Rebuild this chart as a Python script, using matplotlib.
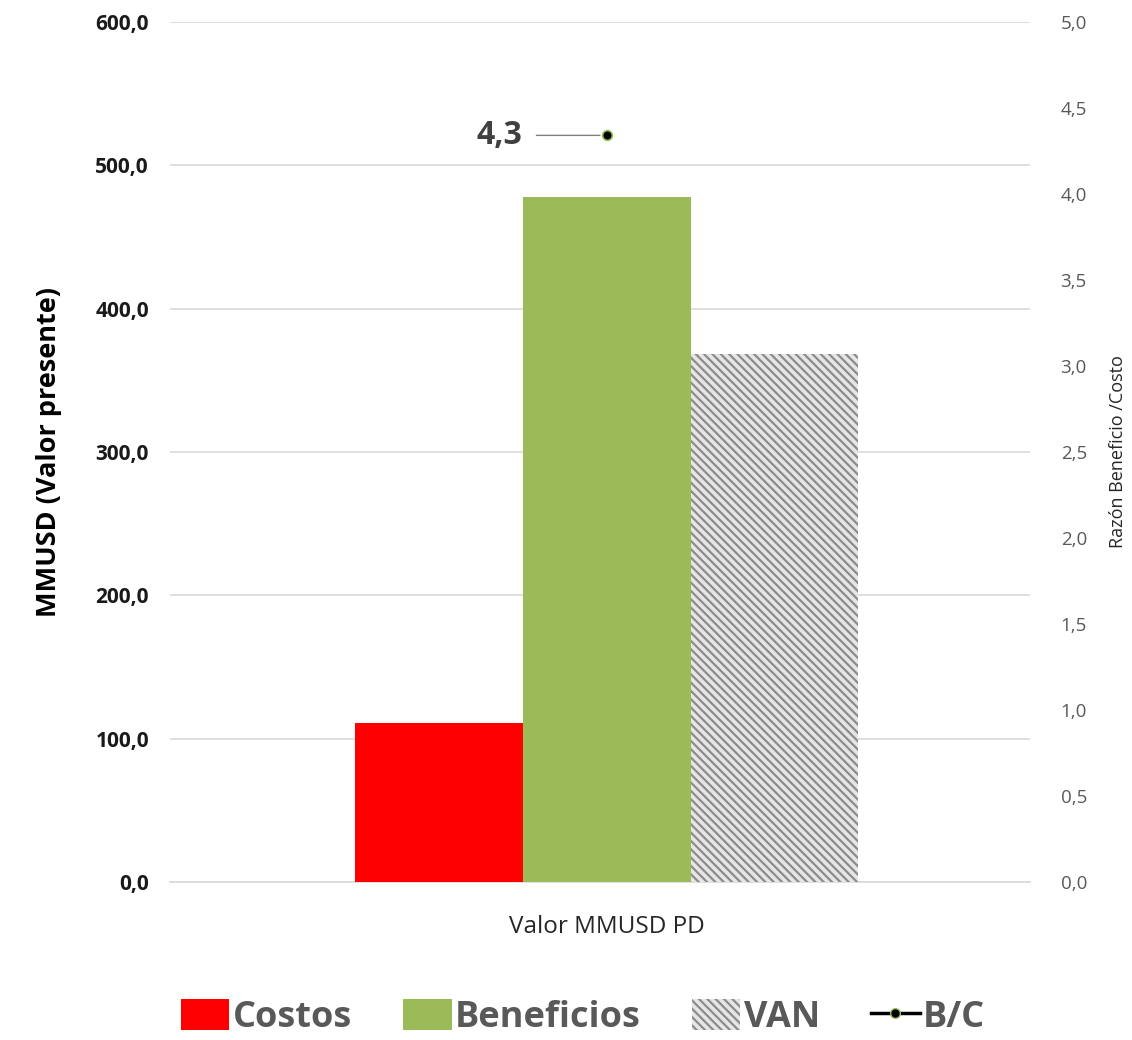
import matplotlib
matplotlib.use('Agg')
import matplotlib.pyplot as plt
from matplotlib.patches import Patch
from matplotlib.lines import Line2D
import numpy as np

plt.rcParams['font.family'] = ['Open Sans', 'DejaVu Sans']
plt.rcParams['hatch.linewidth'] = 1.6

categoria = 'Valor MMUSD PD'
series = ['Costos', 'Beneficios', 'VAN']
valores = [111.0, 478.0, 368.0]
colores = ['#ff0000', '#9bbb59', '#ffffff']
razon_bc = 4.34
ticks_izq = np.arange(0, 601, 100)
ticks_der = np.arange(0, 5.01, 0.5)

fig = plt.figure(figsize=(11.32, 10.4), dpi=100)
ax = fig.add_axes([0.150, 0.152, 0.760, 0.827])
ax2 = ax.twinx()

ancho = 0.195
centro = 0.0
pos = [centro - ancho, centro, centro + ancho]
for i in range(3):
    if series[i] == 'VAN':
        ax.bar(pos[i], valores[i], ancho, color='#e6e6e6', edgecolor='#8c8c8c',
               hatch='\\\\\\\\', linewidth=0, zorder=3)
    else:
        ax.bar(pos[i], valores[i], ancho, color=colores[i], linewidth=0, zorder=3)

ax.set_xlim(-0.508, 0.492)
ax.set_ylim(0, 600)
ax.set_yticks(ticks_izq)
ax.set_yticklabels([('%.1f' % t).replace('.', ',') for t in ticks_izq],
                   fontsize=15, fontweight='bold', color='#1a1a1a')
ax.yaxis.grid(True, color='#d9d9d9', linewidth=1.2, zorder=0)
ax.set_axisbelow(True)
ax.set_xticks([centro])
ax.set_xticklabels([categoria], fontsize=17.5, color='#262626')
ax.tick_params(axis='x', length=0, pad=24)
ax.tick_params(axis='y', length=0, pad=15)
ax.set_ylabel('MMUSD (Valor presente)', fontsize=19.5, fontweight='bold', labelpad=24)
for s in ax.spines.values():
    s.set_visible(False)
ax.spines['bottom'].set_visible(True)
ax.spines['bottom'].set_color('#d9d9d9')
ax.spines['bottom'].set_linewidth(1.2)

ax2.plot([centro], [razon_bc], marker='o', color='black', markersize=7,
         markeredgecolor='#9bbb59', markeredgewidth=1.2, linestyle='-', zorder=5)
ax2.annotate(('%.1f' % razon_bc).replace('.', ','), xy=(centro, razon_bc),
             xytext=(centro - 0.098, razon_bc), ha='right', va='center',
             fontsize=23, fontweight='bold', color='#404040',
             arrowprops=dict(arrowstyle='-', color='#7f7f7f', lw=1,
                             shrinkA=8, shrinkB=5))
ax2.set_ylim(0, 5)
ax2.set_yticks(ticks_der)
ax2.set_yticklabels([('%.1f' % t).replace('.', ',') for t in ticks_der],
                    fontsize=13.5, color='#595959')
ax2.tick_params(axis='y', length=0, pad=22)
ax2.set_ylabel('Razón Beneficio /Costo', fontsize=13, color='#262626', labelpad=16)
for s in ax2.spines.values():
    s.set_visible(False)

handles = [
    Patch(facecolor='#ff0000', edgecolor='none', label='Costos'),
    Patch(facecolor='#9bbb59', edgecolor='none', label='Beneficios'),
    Patch(facecolor='#e6e6e6', edgecolor='#8c8c8c', hatch='\\\\\\\\', linewidth=0, label='VAN'),
    Line2D([0], [0], color='black', lw=2.5, marker='o', markersize=7,
           markerfacecolor='black', markeredgecolor='#9bbb59', label='B/C'),
]
leg = fig.legend(handles=handles, loc='center', bbox_to_anchor=(0.515, 0.022), ncol=4,
                 frameon=False, handlelength=1.35, handleheight=0.95,
                 handletextpad=0.1, columnspacing=1.4,
                 prop={'size': 26, 'weight': 'bold'})
for t in leg.get_texts():
    t.set_color('#595959')

fig.savefig('out.png', dpi=100)
